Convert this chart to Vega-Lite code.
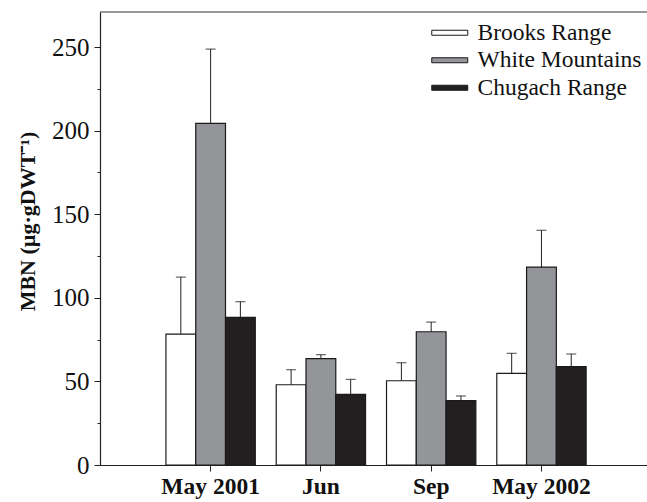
{
  "$schema": "https://vega.github.io/schema/vega-lite/v6.json",
  "width": 547,
  "height": 453,
  "autosize": "none",
  "padding": {"left": 100, "top": 12, "right": 0, "bottom": 37},
  "background": "white",
  "config": {
    "view": {"stroke": null},
    "font": "Times New Roman",
    "axis": {"grid": false, "domainColor": "#222222", "tickColor": "#222222", "labelColor": "#111111", "titleColor": "#111111", "labelFont": "Times New Roman", "titleFont": "Times New Roman"},
    "legend": {"labelFont": "Times New Roman"}
  },
  "data": {
    "values": [
      {"month": "May 2001", "site": "Brooks Range", "mbn": 78.3, "upper": 112.4},
      {"month": "May 2001", "site": "White Mountains", "mbn": 204.4, "upper": 248.8},
      {"month": "May 2001", "site": "Chugach Range", "mbn": 88.3, "upper": 97.7},
      {"month": "Jun", "site": "Brooks Range", "mbn": 48.0, "upper": 57.0},
      {"month": "Jun", "site": "White Mountains", "mbn": 63.6, "upper": 66.0},
      {"month": "Jun", "site": "Chugach Range", "mbn": 42.3, "upper": 51.2},
      {"month": "Sep", "site": "Brooks Range", "mbn": 50.4, "upper": 61.2},
      {"month": "Sep", "site": "White Mountains", "mbn": 79.7, "upper": 85.5},
      {"month": "Sep", "site": "Chugach Range", "mbn": 38.5, "upper": 41.3},
      {"month": "May 2002", "site": "Brooks Range", "mbn": 54.8, "upper": 66.8},
      {"month": "May 2002", "site": "White Mountains", "mbn": 118.4, "upper": 140.4},
      {"month": "May 2002", "site": "Chugach Range", "mbn": 58.8, "upper": 66.4}
    ]
  },
  "layer": [
    {
      "mark": {"type": "bar", "stroke": "#1a1a1a", "strokeWidth": 1.2},
      "encoding": {
        "x": {
          "field": "month", "type": "nominal",
          "sort": ["May 2001", "Jun", "Sep", "May 2002"],
          "scale": {"paddingInner": 0.19, "paddingOuter": 0.575, "align": 0.52},
          "axis": {
            "title": null, "labelAngle": 0, "labelFontSize": 23.5, "labelFontWeight": "bold",
            "tickSize": 6, "labelPadding": 3, "domainWidth": 1.2
          }
        },
        "xOffset": {
          "field": "site", "type": "nominal",
          "sort": ["Brooks Range", "White Mountains", "Chugach Range"],
          "scale": {"paddingInner": 0, "paddingOuter": 0}
        },
        "y": {
          "field": "mbn", "type": "quantitative",
          "scale": {"domain": [0, 271], "nice": false},
          "axis": {
            "title": "MBN (µg·gDWT⁻¹)",
            "titleFontSize": 22, "titleFontWeight": "bold",
            "titlePadding": 12, "titleY": 209,
            "values": [0, 25, 50, 75, 100, 125, 150, 175, 200, 225, 250],
            "labelExpr": "datum.value % 50 === 0 ? datum.label : ''",
            "tickSize": {"condition": {"test": "datum.value % 50 === 0", "value": 6}, "value": 3},
            "labelFontSize": 25, "labelPadding": 5, "domainWidth": 1.2
          }
        },
        "fill": {
          "field": "site", "type": "nominal",
          "scale": {
            "domain": ["Brooks Range", "White Mountains", "Chugach Range"],
            "range": ["#ffffff", "#939598", "#231f20"]
          },
          "legend": {
            "title": null, "orient": "none", "legendX": 338, "legendY": 9,
            "symbolType": "M-1.8,-0.25L1.8,-0.25L1.8,0.25L-1.8,0.25Z",
            "symbolSize": 400, "symbolStrokeColor": "#1a1a1a", "symbolStrokeWidth": 1,
            "symbolOpacity": 1,
            "labelFontSize": 23.5, "labelColor": "#111111", "labelLimit": 300,
            "labelOffset": 16, "rowPadding": 2.5
          }
        }
      }
    },
    {
      "mark": {"type": "rule", "color": "#222222", "strokeWidth": 1},
      "encoding": {
        "x": {"field": "month", "type": "nominal", "sort": ["May 2001", "Jun", "Sep", "May 2002"]},
        "xOffset": {"field": "site", "type": "nominal", "sort": ["Brooks Range", "White Mountains", "Chugach Range"]},
        "y": {"field": "mbn", "type": "quantitative"},
        "y2": {"field": "upper"}
      }
    },
    {
      "mark": {"type": "tick", "color": "#222222", "size": 10, "thickness": 1.2},
      "encoding": {
        "x": {"field": "month", "type": "nominal", "sort": ["May 2001", "Jun", "Sep", "May 2002"]},
        "xOffset": {"field": "site", "type": "nominal", "sort": ["Brooks Range", "White Mountains", "Chugach Range"]},
        "y": {"field": "upper", "type": "quantitative"}
      }
    },
    {
      "data": {"values": [{"edge": "top"}]},
      "mark": {"type": "rule", "color": "#333333", "strokeWidth": 1.2},
      "encoding": {"y": {"datum": 271, "type": "quantitative"}}
    }
  ]
}
